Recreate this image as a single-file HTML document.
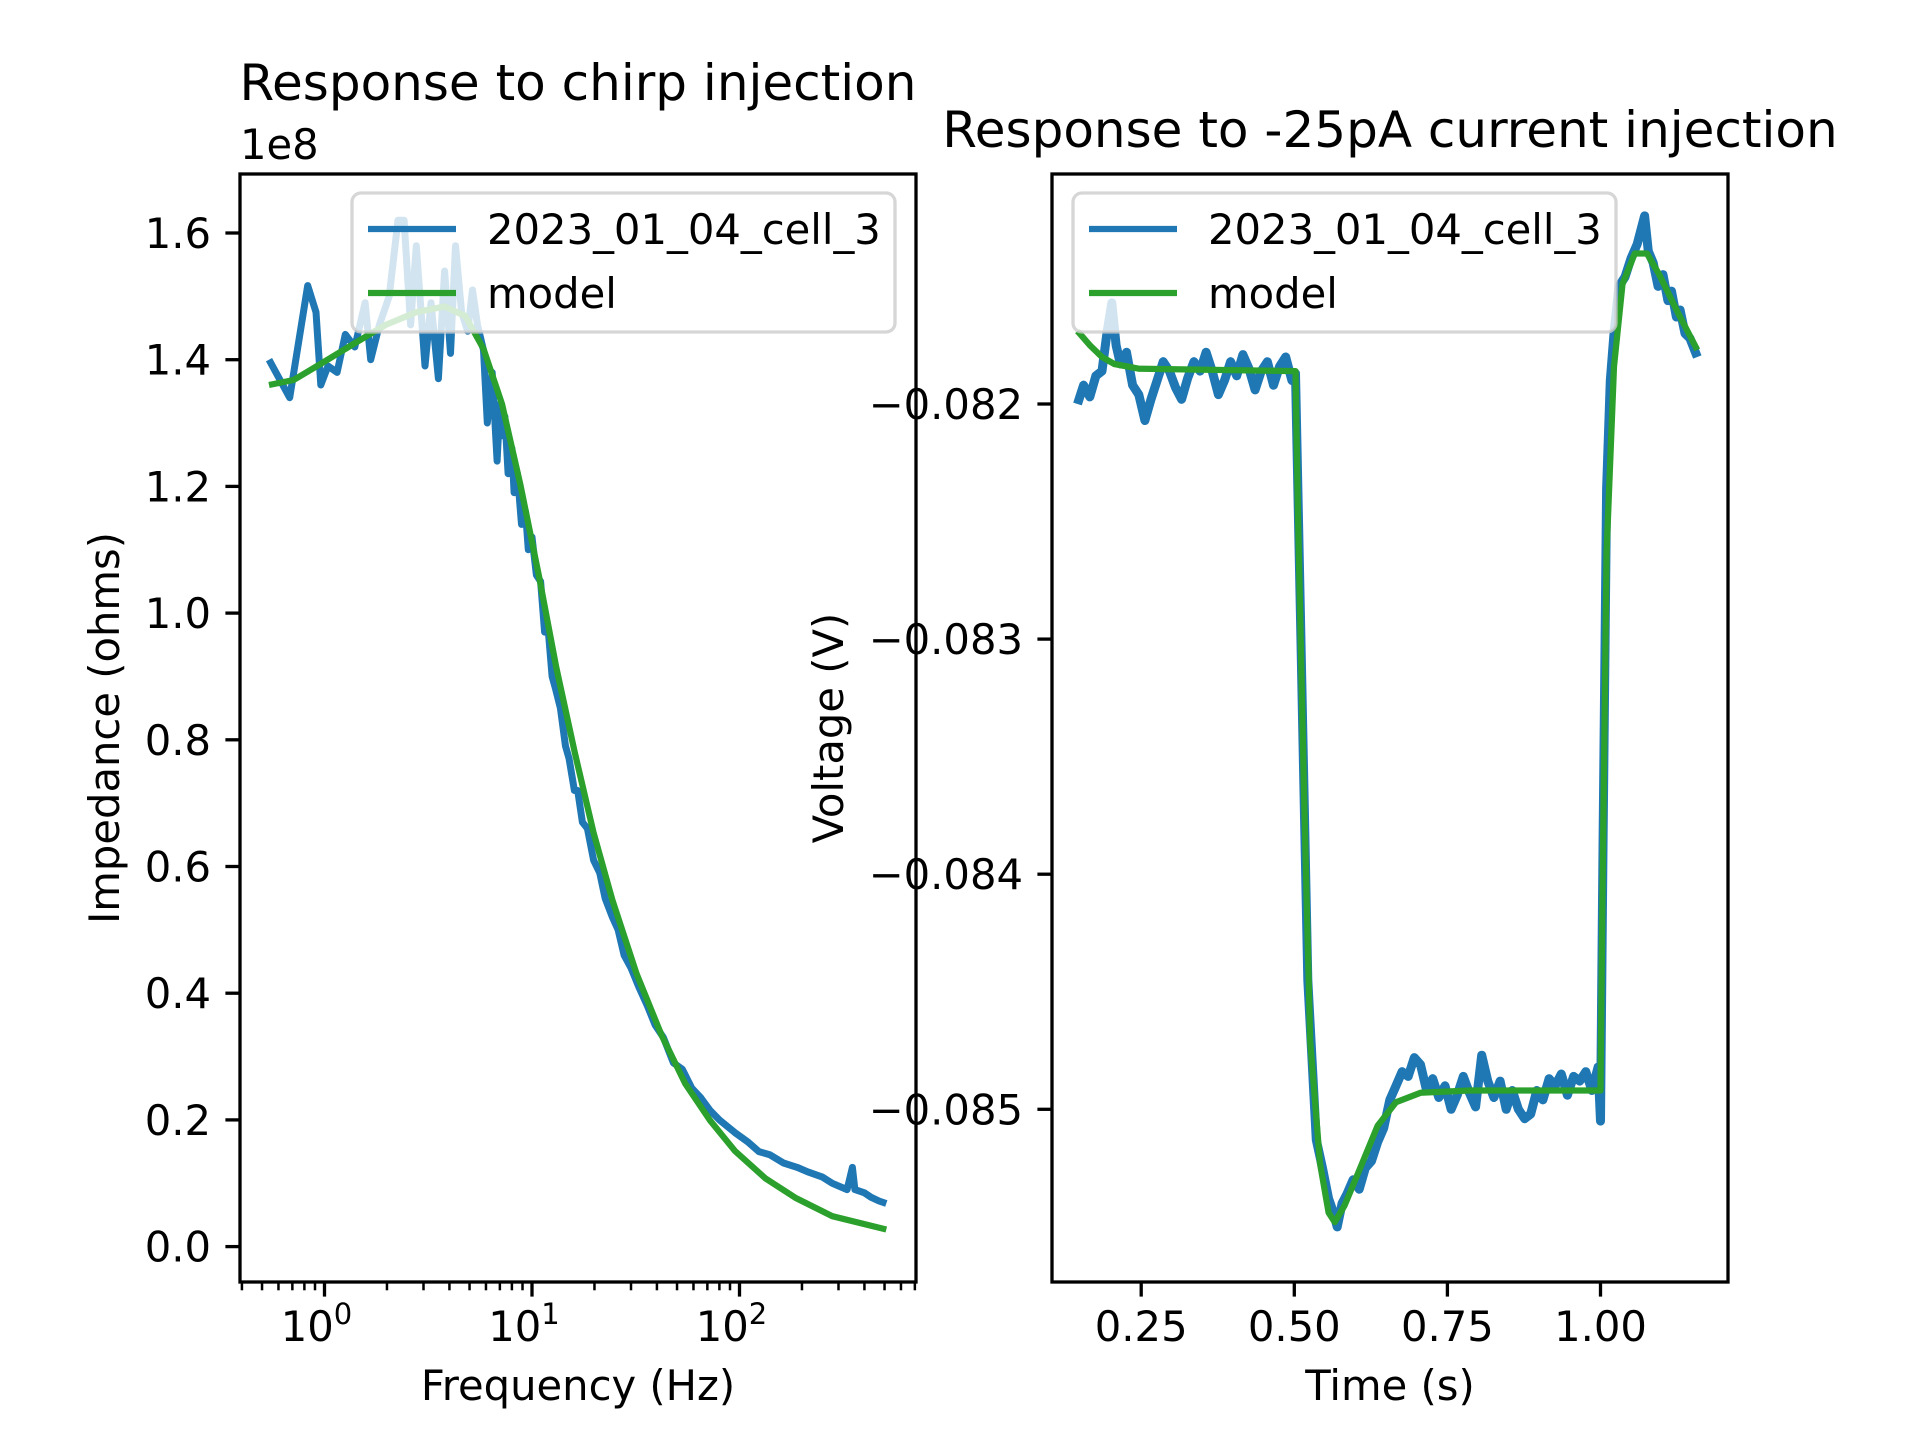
<!DOCTYPE html>
<html><head><meta charset="utf-8"><style>
html,body{margin:0;padding:0;background:#fff;}
svg{display:block;font-family:"DejaVu Sans","Liberation Sans",sans-serif;}
</style></head><body>
<svg id="fig" width="1920" height="1440" viewBox="0 0 1920 1440">
<defs>
<clipPath id="clipL"><rect x="240" y="174" width="676" height="1108"/></clipPath>
<clipPath id="clipR"><rect x="1052" y="174" width="676" height="1108"/></clipPath>
</defs>
<g id="axL"></g>
<g id="axR"></g>
</svg>
<script>
// ---- Left chart data (frequency Hz, impedance in units of 1e8 ohms) ----
const impFreq = [0.54,0.68,0.83,0.91,0.96,1.04,1.15,1.26,1.40,1.57,1.67,1.84,2.05,2.26,2.42,2.6,2.77,3.05,3.26,3.54,3.79,4.05,4.28,4.58,4.9,5.17,5.46,5.84,6.09,6.43,6.79,7.0,7.17,7.4,7.67,8.0,8.2,8.5,8.9,9.3,9.6,10.0,10.5,11.0,11.5,12.0,12.5,13.0,13.7,14.5,15.1,16.0,16.6,17.5,18.5,19.8,21.2,22.5,24.4,26,27.8,30,32.7,36,39.2,43,48,53,58.9,65,72.2,80,95,110,124,140,163,190,213,250,280,330,350,360,400,430,470,510];
const impData = [1.40,1.34,1.517,1.475,1.36,1.39,1.38,1.44,1.42,1.49,1.40,1.455,1.50,1.62,1.62,1.455,1.58,1.39,1.49,1.37,1.54,1.41,1.58,1.475,1.445,1.51,1.455,1.415,1.30,1.38,1.24,1.33,1.28,1.31,1.22,1.26,1.19,1.22,1.14,1.16,1.10,1.12,1.06,1.05,0.97,0.97,0.90,0.88,0.85,0.79,0.77,0.72,0.72,0.67,0.66,0.61,0.59,0.55,0.52,0.50,0.46,0.44,0.41,0.38,0.35,0.33,0.29,0.28,0.25,0.235,0.215,0.20,0.18,0.165,0.15,0.145,0.132,0.125,0.118,0.11,0.10,0.09,0.125,0.09,0.085,0.078,0.072,0.068];
const modelFreq = [0.54,0.71,1.0,1.40,1.97,2.77,3.79,4.77,5.84,7.17,8.77,10.8,13.1,16.1,19.8,24.4,31.9,42.1,54.8,72.2,95,133,186,280,510];
const modelImp = [1.36,1.368,1.397,1.426,1.455,1.475,1.484,1.469,1.417,1.33,1.204,1.059,0.914,0.779,0.653,0.547,0.431,0.334,0.257,0.199,0.151,0.108,0.077,0.048,0.027];
const impYTicks = [0.0,0.2,0.4,0.6,0.8,1.0,1.2,1.4,1.6];
const impXTickExp = [0,1,2];
// ---- Right chart data (time s, voltage V) ----
const timeData = [0.146,0.156,0.166,0.176,0.186,0.194,0.202,0.209,0.216,0.226,0.236,0.246,0.256,0.266,0.276,0.286,0.296,0.306,0.316,0.326,0.336,0.346,0.356,0.366,0.376,0.386,0.396,0.406,0.416,0.426,0.436,0.446,0.456,0.466,0.476,0.486,0.496,0.502,0.510,0.522,0.536,0.546,0.556,0.564,0.570,0.578,0.586,0.596,0.606,0.616,0.626,0.636,0.646,0.656,0.666,0.676,0.686,0.696,0.706,0.716,0.726,0.736,0.746,0.756,0.766,0.776,0.786,0.796,0.806,0.816,0.826,0.836,0.846,0.856,0.866,0.876,0.886,0.896,0.906,0.916,0.926,0.936,0.946,0.956,0.966,0.976,0.986,0.996,1.000,1.004,1.010,1.016,1.022,1.030,1.040,1.050,1.060,1.066,1.072,1.078,1.086,1.094,1.102,1.110,1.116,1.124,1.130,1.138,1.146,1.158];
const voltData = [-0.08200,-0.08192,-0.08197,-0.08188,-0.08186,-0.08170,-0.08157,-0.08175,-0.08183,-0.08178,-0.08192,-0.08196,-0.08207,-0.08198,-0.08190,-0.08182,-0.08186,-0.08193,-0.08198,-0.08189,-0.08182,-0.08186,-0.08178,-0.08186,-0.08196,-0.08190,-0.08182,-0.08188,-0.08179,-0.08185,-0.08194,-0.08186,-0.08182,-0.08192,-0.08184,-0.08180,-0.08190,-0.08187,-0.08289,-0.08445,-0.08513,-0.08525,-0.08538,-0.08544,-0.08550,-0.08540,-0.08536,-0.08530,-0.08534,-0.08525,-0.08522,-0.08514,-0.08508,-0.08496,-0.08490,-0.08484,-0.08486,-0.08478,-0.08481,-0.08492,-0.08487,-0.08495,-0.08490,-0.08500,-0.08494,-0.08486,-0.08493,-0.08499,-0.08477,-0.08488,-0.08495,-0.08488,-0.08500,-0.08492,-0.08500,-0.08504,-0.08502,-0.08492,-0.08496,-0.08487,-0.08490,-0.08485,-0.08494,-0.08486,-0.08488,-0.08484,-0.08492,-0.08482,-0.08505,-0.08393,-0.08236,-0.08190,-0.08170,-0.08150,-0.08146,-0.08138,-0.08132,-0.08126,-0.08120,-0.08135,-0.08140,-0.08150,-0.08145,-0.08156,-0.08152,-0.08163,-0.08160,-0.08170,-0.08172,-0.08180];
const modelTime = [0.146,0.166,0.186,0.206,0.246,0.502,0.506,0.516,0.526,0.542,0.556,0.566,0.582,0.606,0.636,0.666,0.706,0.786,1.000,1.004,1.010,1.022,1.036,1.056,1.076,1.096,1.126,1.158];
const modelVolt = [-0.08169,-0.08175,-0.08180,-0.08183,-0.08185,-0.08186,-0.08247,-0.08367,-0.08471,-0.08523,-0.08544,-0.08548,-0.08541,-0.08526,-0.08507,-0.08497,-0.08493,-0.08492,-0.08492,-0.08393,-0.08263,-0.08184,-0.08149,-0.08136,-0.08136,-0.08145,-0.08161,-0.08177];
const voltYTicks = [-0.082,-0.083,-0.084,-0.085];
const timeXTicks = [0.25,0.50,0.75,1.00];

const NS = "http://www.w3.org/2000/svg";
function mk(tag, attrs, parent, txt){
  const e = document.createElementNS(NS, tag);
  for (const k in attrs) e.setAttribute(k, attrs[k]);
  if (txt !== undefined) e.textContent = txt;
  parent.appendChild(e); return e;
}
const xL = f => 324.5 + Math.log10(f)*207.5;
const yL = z => 1246.6 - z/0.2*126.7;
const xR = t => 1141.2 + (t-0.25)*612.4;
const yR = v => 404 + (-0.082 - v)*235100;
const BLUE = "#1f77b4", GREEN = "#2ca02c";
const FS = 41.7;

function path(xs, ys, fx, fy){
  return xs.map((x,i)=>(i?"L":"M")+fx(x).toFixed(1)+","+fy(ys[i]).toFixed(1)).join(" ");
}

// ---------- Left axes ----------
const gL = document.getElementById('axL');
let p;
p = mk('path',{d:path(impFreq,impData,xL,yL),fill:"none",stroke:BLUE,"stroke-width":7,"stroke-linejoin":"round","clip-path":"url(#clipL)"},gL);


p = mk('path',{d:path(modelFreq,modelImp,xL,yL),fill:"none",stroke:GREEN,"stroke-width":6.25,"stroke-linejoin":"round","clip-path":"url(#clipL)"},gL);


p = mk('rect',{x:240,y:174,width:676,height:1108,fill:"none",stroke:"#000","stroke-width":3.3},gL);


impYTicks.forEach(v=>{
  const y=yL(v);
  mk('line',{x1:240,x2:225.4,y1:y,y2:y,stroke:"#000","stroke-width":3.3},gL);
  const t=mk('text',{x:211,y:y+15,"text-anchor":"end","font-size":FS},gL,v.toFixed(1));
  
  
});
for (let d=-1; d<=2; d++){
  for (let m=2;m<=9;m++){
    const x=xL(m*Math.pow(10,d));
    if (x<240||x>916) continue;
    mk('line',{x1:x,x2:x,y1:1282,y2:1290.3,stroke:"#000","stroke-width":2.5},gL);
  }
}
impXTickExp.forEach(e=>{
  const x=xL(Math.pow(10,e));
  mk('line',{x1:x,x2:x,y1:1282,y2:1296.6,stroke:"#000","stroke-width":3.3},gL);
  const t=mk('text',{x:x-8,y:1341,"text-anchor":"middle","font-size":FS},gL);
  
  
  mk('tspan',{},t,"10");
  mk('tspan',{dy:-17,"font-size":29},t,String(e));
});
p=mk('text',{x:578,y:100,"text-anchor":"middle","font-size":50},gL,"Response to chirp injection");


p=mk('text',{x:240,y:159,"font-size":FS},gL,"1e8");


p=mk('text',{x:578,y:1400,"text-anchor":"middle","font-size":FS},gL,"Frequency (Hz)");


p=mk('text',{x:119,y:728,"text-anchor":"middle","font-size":FS,transform:"rotate(-90 119 728)"},gL,"Impedance (ohms)");



// ---------- Right axes ----------
const gR = document.getElementById('axR');
p = mk('path',{d:path(timeData,voltData,xR,yR),fill:"none",stroke:BLUE,"stroke-width":9,"stroke-linejoin":"round","clip-path":"url(#clipR)"},gR);


p = mk('path',{d:path(modelTime,modelVolt,xR,yR),fill:"none",stroke:GREEN,"stroke-width":6.25,"stroke-linejoin":"round","clip-path":"url(#clipR)"},gR);


p = mk('rect',{x:1052,y:174,width:676,height:1108,fill:"none",stroke:"#000","stroke-width":3.3},gR);


voltYTicks.forEach(v=>{
  const y=yR(v);
  mk('line',{x1:1052,x2:1037.4,y1:y,y2:y,stroke:"#000","stroke-width":3.3},gR);
  const t=mk('text',{x:1023,y:y+15,"text-anchor":"end","font-size":FS},gR,"\u2212"+Math.abs(v).toFixed(3));
  
  
});
timeXTicks.forEach(v=>{
  const x=xR(v);
  mk('line',{x1:x,x2:x,y1:1282,y2:1296.6,stroke:"#000","stroke-width":3.3},gR);
  const t=mk('text',{x:x,y:1341,"text-anchor":"middle","font-size":FS},gR,v.toFixed(2));
  
  
});
p=mk('text',{x:1390,y:147,"text-anchor":"middle","font-size":50},gR,"Response to -25pA current injection");


p=mk('text',{x:1390,y:1400,"text-anchor":"middle","font-size":FS},gR,"Time (s)");


p=mk('text',{x:843,y:728,"text-anchor":"middle","font-size":FS,transform:"rotate(-90 843 728)"},gR,"Voltage (V)");



// ---------- Legends ----------
function legend(g, x0, name){
  const lg = mk('g',{},g);
  
  
  mk('rect',{x:x0,y:193,width:543,height:139,rx:9,fill:"#fff","fill-opacity":0.8,stroke:"#cccccc","stroke-opacity":0.8,"stroke-width":3.3},lg);
  mk('line',{x1:x0+16,x2:x0+104,y1:229,y2:229,stroke:BLUE,"stroke-width":6.25},lg);
  const t1=mk('text',{x:x0+135,y:244,"font-size":FS},lg,"2023_01_04_cell_3");
  
  
  mk('line',{x1:x0+16,x2:x0+104,y1:293,y2:293,stroke:GREEN,"stroke-width":6.25},lg);
  const t2=mk('text',{x:x0+135,y:308,"font-size":FS},lg,"model");
  
  
}
legend(gL, 352, 'left-legend');
legend(gR, 1073, 'right-legend');
</script>
</body></html>
